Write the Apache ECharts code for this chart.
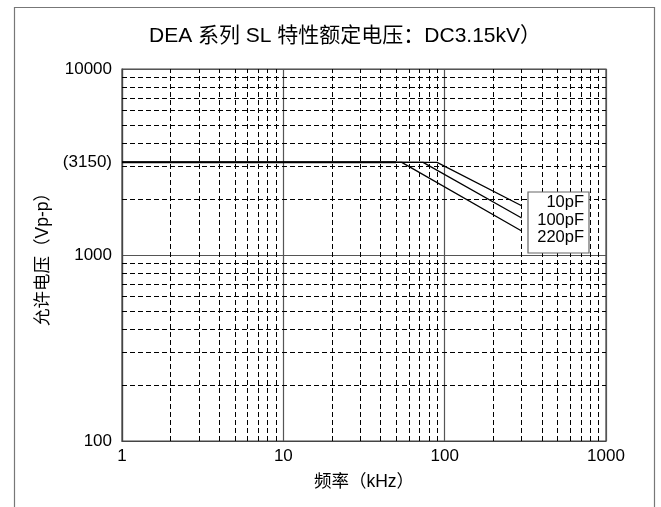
<!DOCTYPE html>
<html>
<head>
<meta charset="utf-8">
<script src="https://cdn.jsdelivr.net/npm/echarts@6/dist/echarts.min.js"></script>
<style>html,body{margin:0;padding:0;background:#fff}#c{width:661px;height:507px}</style>
</head>
<body>
<div id="c"></div>
<script>
var titleText = 'DEA 系列 SL 特性额定电压：DC3.15kV）';
var xName = '频率（kHz）';
var yName = '允许电压（Vp-p）';
var yLabelValues = [100, 1000, 3150, 10000];
var seriesNames = ['10pF', '100pF', '220pF'];
var series10pF = [[1, 3150], [89.7, 3150], [300, 1840]];
var series100pF = [[1, 3150], [73.5, 3150], [300, 1580]];
var series220pF = [[1, 3150], [54.2, 3150], [300, 1345]];
var xMinorGrid = [2,3,4,5,6,7,8,9,20,30,40,50,60,70,80,90,200,300,400,500,600,700,800,900];
var yMinorGrid = [200,300,400,500,600,700,800,900,2000,3000,4000,5000,6000,7000,8000,9000];

var FONT = '"Liberation Sans", Arial, "Noto Sans CJK SC", sans-serif';
var chart = echarts.init(document.getElementById('c'), null, {renderer: 'canvas'});

var minorLines = [];
xMinorGrid.forEach(function (v) { minorLines.push({xAxis: v}); });
yMinorGrid.forEach(function (v) { minorLines.push({yAxis: v}); });

function lineSeries(name, data) {
  return {
    name: name, type: 'line', data: data, symbol: 'none', z: 5,
    lineStyle: {color: '#000', width: 1.3}, silent: true, animation: false
  };
}

chart.setOption({
  animation: false,
  backgroundColor: '#fff',
  title: {
    text: titleText, left: 340, top: 21, textAlign: 'center',
    textStyle: {fontFamily: FONT, fontSize: 21, fontWeight: 'normal', color: '#000'}
  },
  grid: {left: 122, right: 55, top: 69, bottom: 66, show: true, borderColor: '#444', borderWidth: 1.2},
  xAxis: {
    type: 'log', logBase: 10, min: 1, max: 1000,
    name: xName, nameLocation: 'middle', nameGap: 32,
    nameTextStyle: {fontFamily: FONT, fontSize: 17.5, color: '#000'},
    axisLine: {lineStyle: {color: '#444', width: 1.2}},
    axisTick: {show: false},
    axisLabel: {fontFamily: FONT, fontSize: 17, color: '#000', margin: 7,
      formatter: function (v) { return String(Math.round(v)); }},
    splitLine: {show: true, lineStyle: {color: '#555', width: 1.2}}
  },
  yAxis: {
    type: 'log', logBase: 10, min: 100, max: 10000,
    name: yName, nameLocation: 'middle', nameGap: 65, nameRotate: 90,
    nameTextStyle: {fontFamily: FONT, fontSize: 17.5, color: '#000'},
    axisLine: {lineStyle: {color: '#444', width: 1.2}},
    axisTick: {show: false},
    axisLabel: {
      fontFamily: FONT, fontSize: 17, color: '#000', margin: 10,
      customValues: yLabelValues,
      formatter: function (v) { return Math.round(v) === 3150 ? '(3150)' : String(Math.round(v)); }
    },
    splitLine: {show: true, lineStyle: {color: '#555', width: 1.2}}
  },
  series: [
    {
      type: 'line', data: [], z: 1, silent: true,
      markLine: {
        silent: true, symbol: 'none', label: {show: false}, animation: false,
        lineStyle: {color: '#000', type: [5, 3], width: 1},
        data: minorLines
      }
    },
    {
      type: 'line', data: [[1, 3150], [50, 3150]], symbol: 'none', z: 4, silent: true,
      lineStyle: {color: '#000', width: 2}
    },
    lineSeries(seriesNames[0], series10pF),
    lineSeries(seriesNames[1], series100pF),
    lineSeries(seriesNames[2], series220pF)
  ],
  graphic: [
    {type: 'rect', left: 12, top: 5, shape: {width: 640, height: 530},
     style: {fill: 'none', stroke: '#777', lineWidth: 1.2}, z: 0, silent: true},
    {type: 'rect', shape: {x: 528, y: 192, width: 61, height: 61},
     style: {fill: '#fff', stroke: '#666', lineWidth: 1.2}, z: 10},
    {type: 'text', x: 584, y: 194, z: 11,
     style: {text: seriesNames.join('\n'), align: 'right', verticalAlign: 'top',
             font: '16.5px ' + FONT, fill: '#000', lineHeight: 17.5}}
  ]
});
</script>
</body>
</html>
